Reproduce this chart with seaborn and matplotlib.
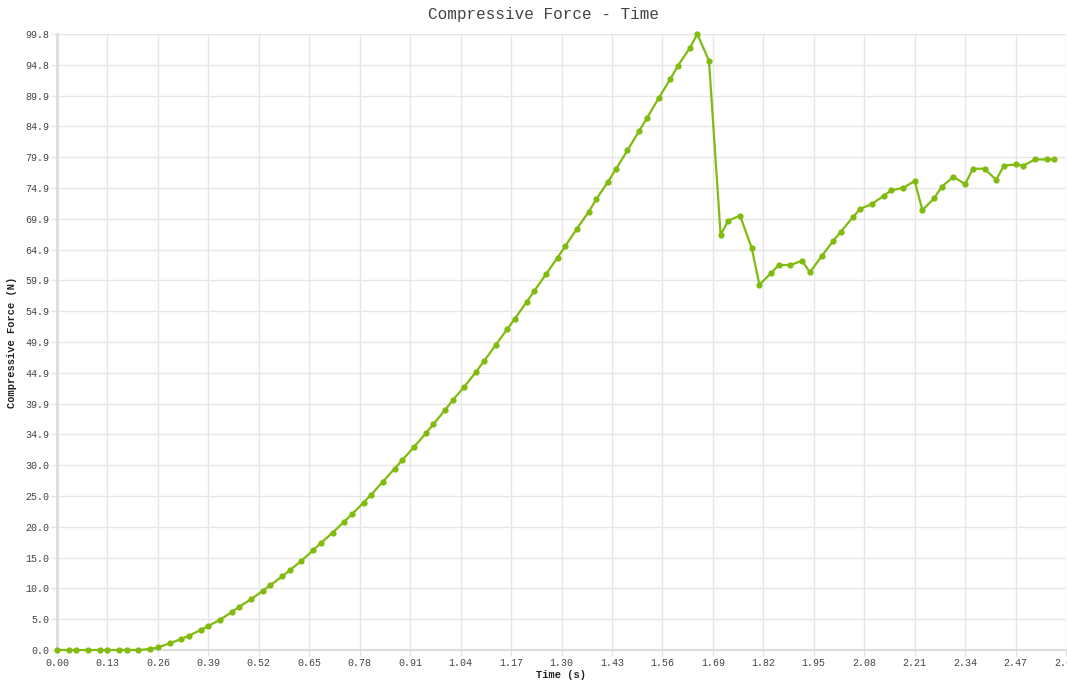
import numpy as np
import pandas as pd
import matplotlib.pyplot as plt
import seaborn as sns

# data
time_s = [0.00, 0.03, 0.05, 0.08, 0.11, 0.13, 0.16, 0.18, 0.21, 0.24,
          0.26, 0.29, 0.32, 0.34, 0.37, 0.39, 0.42, 0.45, 0.47, 0.50,
          0.53, 0.55, 0.58, 0.60, 0.63, 0.66, 0.68, 0.71, 0.74, 0.76,
          0.79, 0.81, 0.84, 0.87, 0.89, 0.92, 0.95, 0.97, 1.00, 1.02,
          1.05, 1.08, 1.10, 1.13, 1.16, 1.18, 1.21, 1.23, 1.26, 1.29,
          1.31, 1.34, 1.37, 1.39, 1.42, 1.44, 1.47, 1.50, 1.52, 1.55,
          1.58, 1.60, 1.63, 1.65, 1.68, 1.71, 1.73, 1.76, 1.79, 1.81,
          1.84, 1.86, 1.89, 1.92, 1.94, 1.97, 2.00, 2.02, 2.05, 2.07,
          2.10, 2.13, 2.15, 2.18, 2.21, 2.23, 2.26, 2.28, 2.31, 2.34,
          2.36, 2.39, 2.42, 2.44, 2.47, 2.49, 2.52, 2.55, 2.57]
force_n = [0.0, 0.0, 0.0, 0.0, 0.0, 0.0, 0.0, 0.0, 0.0, 0.16,
           0.42, 1.07, 1.78, 2.32, 3.24, 3.89, 4.91, 6.12, 7.02, 8.23,
           9.56, 10.53, 11.92, 12.93, 14.47, 16.17, 17.34, 19.0, 20.8, 22.0,
           23.9, 25.2, 27.3, 29.4, 30.8, 32.9, 35.1, 36.6, 38.9, 40.5,
           42.7, 45.1, 46.8, 49.4, 52.0, 53.7, 56.4, 58.2, 60.9, 63.6,
           65.5, 68.3, 71.0, 73.1, 75.9, 77.9, 81.0, 84.1, 86.2, 89.4,
           92.5, 94.7, 97.5, 99.84, 95.5, 67.3, 69.6, 70.4, 65.2, 59.2,
           61.1, 62.4, 62.4, 63.1, 61.2, 63.8, 66.3, 67.8, 70.1, 71.5,
           72.3, 73.6, 74.5, 74.9, 76.0, 71.3, 73.2, 75.1, 76.7, 75.5,
           78.0, 78.0, 76.2, 78.5, 78.7, 78.5, 79.5, 79.5, 79.5]

xtick_labels = ["0.00", "0.13", "0.26", "0.39", "0.52", "0.65", "0.78",
                "0.91", "1.04", "1.17", "1.30", "1.43", "1.56", "1.69",
                "1.82", "1.95", "2.08", "2.21", "2.34", "2.47", "2.60"]
ytick_labels = ["0.0", "5.0", "10.0", "15.0", "20.0", "25.0", "30.0",
                "34.9", "39.9", "44.9", "49.9", "54.9", "59.9", "64.9",
                "69.9", "74.9", "79.9", "84.9", "89.9", "94.8", "99.8"]

df = pd.DataFrame({"time": time_s, "force": force_n})

sns.set_theme(style="whitegrid")
plt.rcParams['font.family'] = ['Liberation Mono', 'DejaVu Sans Mono']

green = "#80bb0e"
grid_c = "#e6e6e6"

fig = plt.figure(figsize=(10.67, 6.89), dpi=100)
ax = fig.add_axes([57 / 1067, 39 / 689, 1009 / 1067, 616 / 689])

sns.lineplot(data=df, x="time", y="force", ax=ax, color=green, linewidth=1.6,
             marker="o", markersize=4.5, markeredgewidth=0, sort=False, clip_on=False,
             zorder=5)

x_max = 2.6
y_max = max(force_n)
ax.set_xlim(0, x_max)
ax.set_ylim(0, y_max)
ax.set_xticks(np.linspace(0, x_max, len(xtick_labels)))
ax.set_xticklabels(xtick_labels)
ax.set_yticks(np.linspace(0, y_max, len(ytick_labels)))
ax.set_yticklabels(ytick_labels)

ax.grid(True, color=grid_c, linewidth=1.0)
ax.tick_params(axis="both", labelsize=7.2, colors=grid_c, labelcolor="#444444",
               length=4, width=1.0, pad=1.5, direction="out")
ax.tick_params(axis="x", bottom=True)
ax.tick_params(axis="y", left=True)
for side in ["top", "right"]:
    ax.spines[side].set_visible(False)
ax.spines["left"].set_color("#dddddd")
ax.spines["left"].set_linewidth(2.0)
ax.spines["bottom"].set_color("#dddddd")
ax.spines["bottom"].set_linewidth(1.5)

ax.set_xlabel("Time (s)", fontsize=7.5, fontweight="bold", color="#222222", labelpad=2)
ax.set_ylabel("Compressive Force (N)", fontsize=7.5, fontweight="bold", color="#222222", labelpad=6)

fig.text(544 / 1067, 1 - 15 / 689, "Compressive Force - Time", ha="center", va="center",
         fontsize=11.5, color="#444444")

fig.savefig("out.png", dpi=100)
